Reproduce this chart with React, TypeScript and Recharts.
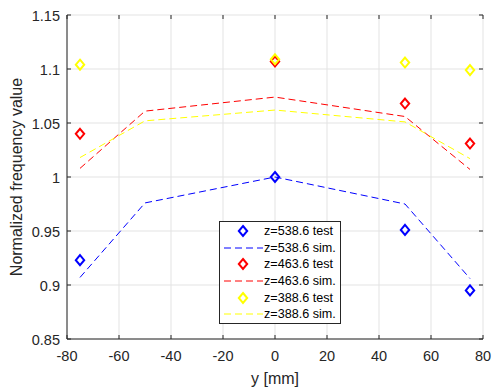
import React from 'react';
import { ComposedChart, Line, Scatter, XAxis, YAxis, CartesianGrid, Legend } from 'recharts';

// ---- data ----
const testPositions = [-75, 0, 50, 75];
const simPositions = [-75, -50, 0, 50, 75];

const blueTest = [0.923, 1.0, 0.951, 0.895];
const blueSim = [0.907, 0.976, 1.0, 0.975, 0.906];
const redTest = [1.04, 1.107, 1.068, 1.031];
const redSim = [1.008, 1.061, 1.074, 1.056, 1.007];
const yellowTest = [1.104, 1.109, 1.106, 1.099];
const yellowSim = [1.018, 1.052, 1.062, 1.051, 1.017];

const xTicks = [-80, -60, -40, -20, 0, 20, 40, 60, 80];
const yTicks = [0.85, 0.9, 0.95, 1, 1.05, 1.1, 1.15];

const seriesNames = [
  { label: 'z=538.6 test', kind: 'test', color: '#0000ff' },
  { label: 'z=538.6 sim.', kind: 'sim', color: '#0000ff' },
  { label: 'z=463.6 test', kind: 'test', color: '#ff0000' },
  { label: 'z=463.6 sim.', kind: 'sim', color: '#ff0000' },
  { label: 'z=388.6 test', kind: 'test', color: '#ffff00' },
  { label: 'z=388.6 sim.', kind: 'sim', color: '#ffff00' },
];

const toPts = (xs: number[], vs: number[]) => xs.map((x, i) => ({ y: x, v: vs[i] }));

// ---- layout ----
const W = 492;
const H = 387;
const PL = 67;
const PR = 483;
const PT = 15;
const PB = 339;
const FONT = '"Liberation Sans", Arial, sans-serif';
const AX = '#262626';

const fmt = (v: number) => String(Number(v.toFixed(2)));

const XTick = (props: any) => {
  const { x, y, payload } = props;
  return (
    <g>
      <line x1={x} x2={x} y1={PB} y2={PB - 4} stroke={AX} strokeWidth={1} />
      <line x1={x} x2={x} y1={PT} y2={PT + 4} stroke={AX} strokeWidth={1} />
      <text x={x} y={y + 22} textAnchor="middle" fontSize={14.5} fontFamily={FONT} fill={AX}>
        {fmt(payload.value)}
      </text>
    </g>
  );
};

const YTick = (props: any) => {
  const { x, y, payload } = props;
  return (
    <g>
      <line x1={PL} x2={PL + 4} y1={y} y2={y} stroke={AX} strokeWidth={1} />
      <line x1={PR} x2={PR - 4} y1={y} y2={y} stroke={AX} strokeWidth={1} />
      <text x={x - 7} y={y + 6} textAnchor="end" fontSize={14.5} fontFamily={FONT} fill={AX}>
        {fmt(payload.value)}
      </text>
    </g>
  );
};

const Diamond = (color: string) => (props: any) => {
  const { cx, cy } = props;
  if (cx == null || cy == null) return null;
  return (
    <path
      d={`M${cx},${cy - 5} L${cx + 4.2},${cy} L${cx},${cy + 5} L${cx - 4.2},${cy} Z`}
      fill="none"
      stroke={color}
      strokeWidth={2}
    />
  );
};

const LegendBox = () => (
  <div
    style={{
      width: 120,
      height: 100,
      border: `1px solid ${AX}`,
      background: '#fff',
      fontFamily: FONT,
      fontSize: 12.6,
      color: '#000',
      boxSizing: 'content-box',
      paddingTop: 1,
    }}
  >
    {seriesNames.map((s) => (
      <div key={s.label} style={{ height: 16.6, display: 'flex', alignItems: 'center' }}>
        <svg width={44} height={16} style={{ flex: 'none' }}>
          {s.kind === 'test' ? (
            <path d="M23,3 L27.2,8 L23,13 L18.8,8 Z" fill="none" stroke={s.color} strokeWidth={2} />
          ) : (
            <line x1={4} x2={43} y1={8} y2={8} stroke={s.color} strokeWidth={1} strokeDasharray="7 4" />
          )}
        </svg>
        <span style={{ whiteSpace: 'nowrap', lineHeight: '16px' }}>{s.label}</span>
      </div>
    ))}
  </div>
);

export default function App() {
  return (
    <div style={{ position: 'absolute', left: 0, top: 0, width: W, height: H, background: '#fff' }}>
      <ComposedChart
        width={W}
        height={H}
        margin={{ top: PT, right: W - PR, bottom: 0, left: 0 }}
      >
        <CartesianGrid stroke="#e3e3e3" strokeWidth={1} vertical horizontal />
        <XAxis
          dataKey="y"
          type="number"
          domain={[-80, 80]}
          ticks={xTicks}
          height={H - PB}
          tickSize={0}
          tickMargin={0}
          axisLine={{ stroke: AX }}
          tickLine={false}
          tick={<XTick />}
          allowDataOverflow
          label={(p: any) => {
            const vb = p.viewBox;
            return (
              <text x={vb.x + vb.width / 2} y={384} textAnchor="middle" fontSize={16} fontFamily={FONT} fill={AX}>
                y [mm]
              </text>
            );
          }}
        />
        <XAxis xAxisId="top" orientation="top" type="number" domain={[-80, 80]} height={0} tick={false} tickLine={false} axisLine={{ stroke: AX }} />
        <YAxis
          type="number"
          domain={[0.85, 1.15]}
          ticks={yTicks}
          width={PL}
          tickSize={0}
          tickMargin={0}
          axisLine={{ stroke: AX }}
          tickLine={false}
          tick={<YTick />}
          allowDataOverflow
          label={(p: any) => {
            const vb = p.viewBox;
            const cy = vb.y + vb.height / 2;
            return (
              <text x={21.5} y={cy} transform={`rotate(-90 21.5 ${cy})`} textAnchor="middle" fontSize={16} fontFamily={FONT} fill={AX}>
                Normalized frequency value
              </text>
            );
          }}
        />
        <YAxis yAxisId="right" orientation="right" type="number" domain={[0.85, 1.15]} width={0} tick={false} tickLine={false} axisLine={{ stroke: AX }} />

        <Scatter data={toPts(testPositions, blueTest)} dataKey="v" shape={Diamond('#0000ff')} isAnimationActive={false} />
        <Line data={toPts(simPositions, blueSim)} dataKey="v" stroke="#0000ff" strokeWidth={1} strokeDasharray="7 4" dot={false} activeDot={false} isAnimationActive={false} />
        <Scatter data={toPts(testPositions, redTest)} dataKey="v" shape={Diamond('#ff0000')} isAnimationActive={false} />
        <Line data={toPts(simPositions, redSim)} dataKey="v" stroke="#ff0000" strokeWidth={1} strokeDasharray="7 4" dot={false} activeDot={false} isAnimationActive={false} />
        <Scatter data={toPts(testPositions, yellowTest)} dataKey="v" shape={Diamond('#ffff00')} isAnimationActive={false} />
        <Line data={toPts(simPositions, yellowSim)} dataKey="v" stroke="#ffff00" strokeWidth={1} strokeDasharray="7 4" dot={false} activeDot={false} isAnimationActive={false} />

        <Legend
          layout="vertical"
          align="center"
          verticalAlign="middle"
          content={() => <LegendBox />}
          wrapperStyle={{ position: 'absolute', left: 219, top: 221, width: 122, height: 103 }}
        />
      </ComposedChart>
    </div>
  );
}
